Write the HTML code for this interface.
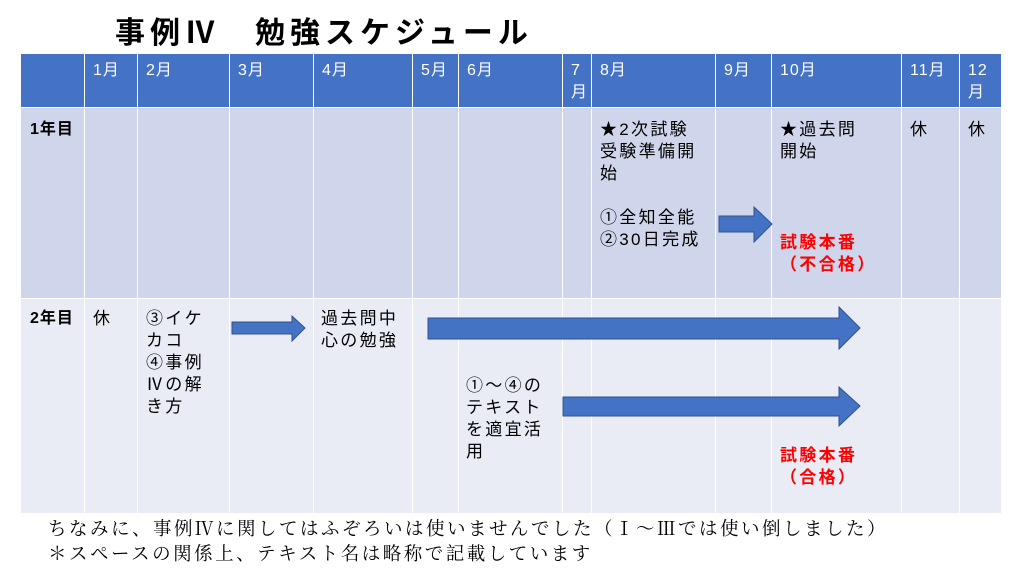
<!DOCTYPE html>
<html><head><meta charset="utf-8"><style>
body{margin:0;width:1024px;height:576px;background:#fff;position:relative;overflow:hidden;font-family:"Liberation Sans","Noto Sans CJK JP",sans-serif;}
.c{position:absolute;box-sizing:border-box;}
.h{background:#4472c4;color:#fff;font-size:16px;padding:6px 0 0 8px;line-height:22px;letter-spacing:1px;}
.r1{background:#cfd5ea;}
.r2{background:#e9ebf5;}
.t{position:absolute;font-size:17px;line-height:22px;color:#000;white-space:nowrap;letter-spacing:2.3px;}
.red{color:#f00;font-weight:bold;}
</style></head><body>
<div class="t" style="left:115px;top:14px;font-size:30px;line-height:40px;font-weight:bold;letter-spacing:5px;">事例Ⅳ　勉強スケジュール</div>
<div id="g"></div>
<svg style="position:absolute;left:0;top:0" width="1024" height="576">
<polygon points="719,216 754,216 754,207 772,224 754,242 754,232 719,232" fill="#4472c4" stroke="#2f528f" stroke-width="1"/>
<polygon points="232,322 292,322 292,316 305,328 292,341 292,334 232,334" fill="#4472c4" stroke="#2f528f" stroke-width="1"/>
<polygon points="428,318 839,318 839,307 860,328 839,349 839,339 428,339" fill="#4472c4" stroke="#2f528f" stroke-width="1"/>
<polygon points="563,397 839,397 839,387 860,406 839,426 839,416 563,416" fill="#4472c4" stroke="#2f528f" stroke-width="1"/>
</svg>
<div class="t" style="left:30px;top:119px;font-weight:bold;font-size:16px;letter-spacing:1px;">1年目</div>
<div class="t" style="left:30px;top:308px;font-weight:bold;font-size:16px;letter-spacing:1px;">2年目</div>
<div class="t" style="left:600px;top:119px;">★2次試験<br>受験準備開<br>始<br><br>①全知全能<br>②30日完成</div>
<div class="t" style="left:780px;top:119px;">★過去問<br>開始</div>
<div class="t" style="left:910px;top:119px;">休</div>
<div class="t" style="left:968px;top:119px;">休</div>
<div class="t red" style="left:780px;top:232px;">試験本番<br>（不合格）</div>
<div class="t" style="left:93px;top:308px;">休</div>
<div class="t" style="left:146px;top:308px;">③イケ<br>カコ<br>④事例<br>Ⅳの解<br>き方</div>
<div class="t" style="left:321px;top:308px;">過去問中<br>心の勉強</div>
<div class="t" style="left:466px;top:375px;">①～④の<br>テキスト<br>を適宜活<br>用</div>
<div class="t red" style="left:780px;top:445px;">試験本番<br>（合格）</div>
<div class="t" style="left:48px;top:518px;font-size:18.5px;line-height:25px;letter-spacing:2.5px;font-family:'Liberation Serif','Noto Serif CJK SC',serif;">ちなみに、事例Ⅳに関してはふぞろいは使いませんでした（Ⅰ～Ⅲでは使い倒しました）<br>＊スペースの関係上、テキスト名は略称で記載しています</div>
<script>
var xs=[21,84,137,229,313,412,458,562,591,715,771,901,959,1001];
var labels=["","1月","2月","3月","4月","5月","6月","7<br>月","8月","9月","10月","11月","12<br>月"];
var rows=[[54,107,"h"],[108,298,"r1"],[299,513,"r2"]];
var g=document.getElementById('g'),h="";
for(var r=0;r<3;r++)for(var i=0;i<13;i++){
var x=xs[i]+(i?1:0),w=xs[i+1]-x,y=rows[r][0],hh=rows[r][1]-y;
h+='<div class="c '+rows[r][2]+'" style="left:'+x+'px;top:'+y+'px;width:'+w+'px;height:'+hh+'px;">'+(r==0?labels[i]:'')+'</div>';}
g.innerHTML=h;
</script>
</body></html>
